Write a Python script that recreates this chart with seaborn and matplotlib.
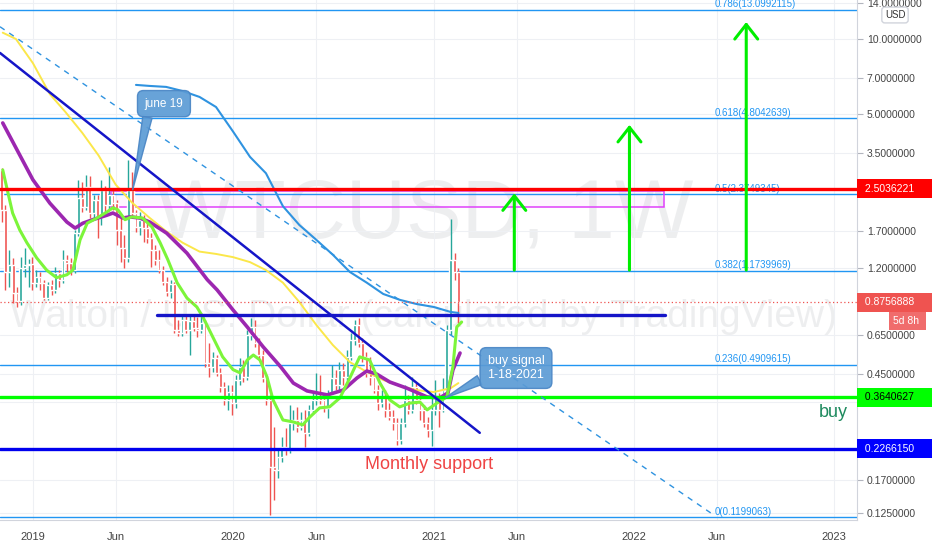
import matplotlib
matplotlib.use("Agg")
import matplotlib.pyplot as plt
import matplotlib.dates as mdates
import matplotlib.transforms as mtransforms
from matplotlib.patches import Rectangle
from matplotlib.ticker import FixedLocator, FuncFormatter, NullLocator
import numpy as np
import pandas as pd
import seaborn as sns

sns.set_style("white")
plt.rcParams["font.family"] = ["Liberation Sans", "DejaVu Sans"]

# weekly candles WTC/USD, first week starting 2018-11-05
first_week = "2018-11-05"
opens = [2.98, 2.06, 1.16, 1.24, 0.955, 0.887, 1.20, 1.24, 1.25, 1.05,
         1.11, 1.05, 0.911, 1.03, 0.982, 1.15, 1.08, 1.30, 1.26, 1.18,
         1.66, 2.30, 2.11, 2.55, 2.00, 2.26, 1.93, 2.48, 2.15, 2.36,
         2.19, 1.71, 1.45, 1.32, 2.48, 2.00, 1.76, 1.88, 1.74, 1.59,
         1.42, 1.30, 1.18, 1.06, 0.964, 1.04, 0.678, 0.660, 0.744, 0.678,
         0.737, 0.691, 0.678, 0.724, 0.500, 0.482, 0.524, 0.456, 0.400, 0.355,
         0.382, 0.345, 0.427, 0.482, 0.439, 0.648, 0.697, 0.601, 0.538, 0.435,
         0.355, 0.191, 0.186, 0.210, 0.230, 0.224, 0.287, 0.295, 0.277, 0.295,
         0.262, 0.324, 0.355, 0.365, 0.355, 0.330, 0.372, 0.435, 0.408, 0.469,
         0.439, 0.529, 0.618, 0.710, 0.601, 0.529, 0.456, 0.439, 0.389, 0.345,
         0.365, 0.324, 0.303, 0.287, 0.245, 0.287, 0.355, 0.324, 0.400, 0.355,
         0.324, 0.287, 0.269, 0.324, 0.365, 0.324, 0.389, 0.678, 1.30, 1.16]
highs = [3.03, 2.15, 1.42, 1.32, 1.01, 1.33, 1.45, 1.31, 1.33, 1.18,
         1.16, 1.08, 1.06, 1.08, 1.21, 1.18, 1.42, 1.36, 1.32, 1.71,
         2.72, 2.67, 2.84, 2.82, 2.36, 2.36, 2.72, 2.57, 3.06, 2.52,
         2.26, 1.93, 1.63, 3.27, 2.92, 2.06, 2.02, 1.96, 1.84, 1.66,
         1.49, 1.42, 1.23, 1.11, 1.08, 1.06, 0.744, 0.772, 0.772, 0.772,
         0.772, 0.765, 0.794, 0.744, 0.601, 0.553, 0.538, 0.477, 0.419, 0.408,
         0.408, 0.447, 0.524, 0.514, 0.678, 0.758, 0.744, 0.630, 0.564, 0.447,
         0.372, 0.277, 0.224, 0.252, 0.274, 0.339, 0.324, 0.333, 0.318, 0.324,
         0.339, 0.382, 0.456, 0.447, 0.372, 0.389, 0.491, 0.469, 0.504, 0.500,
         0.564, 0.660, 0.744, 0.758, 0.630, 0.553, 0.529, 0.460, 0.408, 0.389,
         0.389, 0.345, 0.324, 0.301, 0.301, 0.408, 0.372, 0.439, 0.415, 0.372,
         0.339, 0.303, 0.362, 0.427, 0.379, 0.435, 0.710, 1.89, 1.38, 1.20]
lows = [1.84, 0.982, 1.01, 0.870, 0.839, 0.855, 1.11, 1.01, 0.982, 1.01,
        0.982, 0.895, 0.895, 0.937, 0.955, 1.01, 1.05, 1.16, 1.13, 1.15,
        1.62, 2.02, 2.06, 1.91, 1.91, 1.59, 1.79, 2.02, 2.06, 2.06,
        1.49, 1.27, 1.20, 1.27, 1.95, 1.68, 1.63, 1.53, 1.52, 1.21,
        1.24, 1.15, 1.03, 0.928, 0.911, 0.660, 0.642, 0.642, 0.660, 0.538,
        0.672, 0.636, 0.660, 0.482, 0.439, 0.460, 0.443, 0.382, 0.339, 0.324,
        0.309, 0.330, 0.408, 0.419, 0.427, 0.618, 0.580, 0.514, 0.419, 0.339,
        0.123, 0.141, 0.172, 0.200, 0.214, 0.218, 0.269, 0.264, 0.269, 0.230,
        0.255, 0.312, 0.339, 0.342, 0.318, 0.301, 0.362, 0.389, 0.389, 0.408,
        0.427, 0.514, 0.590, 0.580, 0.504, 0.439, 0.408, 0.379, 0.324, 0.333,
        0.303, 0.295, 0.269, 0.234, 0.236, 0.277, 0.312, 0.315, 0.342, 0.295,
        0.277, 0.252, 0.232, 0.309, 0.277, 0.318, 0.372, 0.648, 1.08, 0.724]
closes = [2.06, 1.16, 1.24, 0.955, 0.887, 1.20, 1.24, 1.25, 1.05, 1.11,
          1.05, 0.911, 1.03, 0.982, 1.15, 1.08, 1.30, 1.26, 1.18, 1.66,
          2.30, 2.11, 2.55, 2.00, 2.26, 1.93, 2.48, 2.15, 2.36, 2.19,
          1.71, 1.45, 1.32, 2.48, 2.00, 1.76, 1.88, 1.74, 1.59, 1.42,
          1.30, 1.18, 1.06, 0.964, 1.04, 0.678, 0.660, 0.744, 0.678, 0.737,
          0.691, 0.678, 0.724, 0.500, 0.482, 0.524, 0.456, 0.400, 0.355, 0.382,
          0.345, 0.427, 0.482, 0.439, 0.648, 0.697, 0.601, 0.538, 0.435, 0.355,
          0.191, 0.186, 0.210, 0.230, 0.224, 0.287, 0.295, 0.277, 0.295, 0.262,
          0.324, 0.355, 0.365, 0.355, 0.330, 0.372, 0.435, 0.408, 0.469, 0.439,
          0.529, 0.618, 0.710, 0.601, 0.529, 0.456, 0.439, 0.389, 0.345, 0.365,
          0.324, 0.303, 0.287, 0.245, 0.287, 0.355, 0.324, 0.400, 0.355, 0.324,
          0.287, 0.269, 0.324, 0.365, 0.324, 0.389, 0.678, 1.30, 1.16, 0.8757]

# moving average overlays
yellow_dates = ["2018-11-07", "2018-12-01", "2019-01-01", "2019-02-01", "2019-03-01",
                "2019-04-01", "2019-05-01", "2019-06-01", "2019-07-01", "2019-08-01",
                "2019-09-01", "2019-10-01", "2019-11-01", "2019-12-01", "2020-01-01",
                "2020-02-01", "2020-03-01", "2020-04-01", "2020-05-01", "2020-06-01",
                "2020-07-01", "2020-08-01", "2020-09-01", "2020-10-01", "2020-11-01",
                "2020-12-01", "2021-01-01", "2021-02-01", "2021-02-15"]
yellow_vals = [10.6, 10.0, 8.0, 6.0, 5.1, 4.2, 3.4, 2.6, 2.2, 1.92,
               1.69, 1.52, 1.40, 1.37, 1.33, 1.27, 1.18, 1.05, 0.878, 0.71,
               0.59, 0.504, 0.46, 0.427, 0.404, 0.389, 0.382, 0.396, 0.415]

blue_dates = ["2019-07-08", "2019-08-01", "2019-09-01", "2019-10-01", "2019-11-01",
              "2019-12-01", "2020-01-01", "2020-02-01", "2020-03-01", "2020-04-01",
              "2020-05-01", "2020-06-01", "2020-07-01", "2020-08-01", "2020-09-01",
              "2020-10-01", "2020-11-01", "2020-12-01", "2021-01-01", "2021-02-01",
              "2021-02-15"]
blue_vals = [6.54, 6.48, 6.42, 6.18, 5.85, 5.33, 4.25, 3.36, 2.89, 2.13,
             1.79, 1.56, 1.36, 1.16, 1.05, 0.946, 0.895, 0.862, 0.839, 0.801,
             0.794]

green_dates = ["2018-11-07", "2018-11-14", "2018-11-25", "2018-12-08", "2018-12-21",
               "2019-01-08", "2019-01-26", "2019-02-13", "2019-03-04", "2019-03-15",
               "2019-03-28", "2019-04-10", "2019-04-28", "2019-05-16", "2019-05-27",
               "2019-06-05", "2019-06-18", "2019-06-30", "2019-07-20", "2019-08-06",
               "2019-08-21", "2019-09-04", "2019-09-21", "2019-10-09", "2019-10-27",
               "2019-11-07", "2019-11-25", "2019-12-13", "2020-01-01", "2020-01-14",
               "2020-01-27", "2020-02-07", "2020-02-19", "2020-03-03", "2020-03-14",
               "2020-04-01", "2020-04-19", "2020-05-07", "2020-05-20", "2020-06-07",
               "2020-06-25", "2020-07-14", "2020-08-01", "2020-08-19", "2020-09-06",
               "2020-09-25", "2020-10-13", "2020-10-31", "2020-11-19", "2020-12-07",
               "2020-12-20", "2021-01-07", "2021-01-25", "2021-02-05", "2021-02-12",
               "2021-02-21"]
green_vals = [2.98, 2.55, 2.00, 1.71, 1.52, 1.32, 1.18, 1.10, 1.13, 1.18,
              1.56, 1.82, 1.91, 2.02, 2.10, 2.06, 1.88, 1.93, 1.91, 1.76,
              1.52, 1.30, 1.05, 0.911, 0.839, 0.765, 0.636, 0.529, 0.47, 0.456,
              0.514, 0.538, 0.514, 0.439, 0.355, 0.295, 0.290, 0.282, 0.303, 0.330,
              0.333, 0.362, 0.435, 0.529, 0.514, 0.415, 0.355, 0.333, 0.345, 0.348,
              0.324, 0.345, 0.365, 0.482, 0.697, 0.730]

purple_dates = ["2018-11-07", "2018-12-08", "2019-01-01", "2019-02-01", "2019-03-04",
                "2019-03-19", "2019-04-02", "2019-04-20", "2019-05-16", "2019-05-27",
                "2019-06-14", "2019-06-27", "2019-07-15", "2019-08-02", "2019-09-02",
                "2019-10-09", "2019-11-15", "2019-12-03", "2020-01-01", "2020-01-27",
                "2020-02-25", "2020-03-28", "2020-04-20", "2020-05-15", "2020-06-21",
                "2020-07-20", "2020-08-14", "2020-09-01", "2020-09-19", "2020-10-13",
                "2020-11-13", "2020-12-20", "2021-01-12", "2021-01-27", "2021-02-05",
                "2021-02-18"]
purple_vals = [4.60, 3.42, 2.72, 2.19, 1.84, 1.74, 1.82, 1.88, 1.96, 2.00,
               1.91, 1.93, 1.91, 1.84, 1.66, 1.38, 1.08, 0.982, 0.816, 0.697,
               0.580, 0.482, 0.415, 0.386, 0.372, 0.389, 0.435, 0.464, 0.451, 0.419,
               0.396, 0.365, 0.362, 0.379, 0.469, 0.548]

# fibonacci retracement levels
fib_ratios = ["0.786", "0.618", "0.5", "0.382", "0.236", "0"]
fib_prices = [13.0992115, 4.8042639, 2.3749345, 1.1739969, 0.4909615, 0.1199063]

# horizontal key levels shown on the price scale
level_prices = [2.5036221, 0.8756888, 0.3640627, 0.2266150]
level_text = ["2.5036221", "0.8756888", "0.3640627", "0.2266150"]
level_bg = ["#ff0000", "#ef5350", "#00ff00", "#0000ff"]
level_fg = ["white", "white", "black", "white"]

# drawn trend lines (start, end)
down_trend_dates = ["2018-11-02", "2021-03-26"]
down_trend_vals = [8.79, 0.262]
dashed_trend_dates = ["2018-11-02", "2022-05-24"]
dashed_trend_vals = [11.2, 0.1237]
neck_dates = ["2019-08-15", "2022-02-27"]
neck_val = 0.779
zone_dates = ["2019-05-23", "2022-02-25"]
zone_low, zone_high = 2.11, 2.46

# green target arrows
arrow_dates = ["2021-05-28", "2021-12-24", "2022-07-25"]
arrow_base = [1.18, 1.18, 1.18]
arrow_tip = [2.40, 4.52, 11.7]

axis_ticks = [14, 10, 7, 5, 3.5, 1.7, 1.2, 0.65, 0.45, 0.35, 0.17, 0.125]
time_ticks = ["2019-01-01", "2019-06-01", "2020-01-01", "2020-06-01", "2021-01-01",
              "2021-06-01", "2022-01-01", "2022-06-01", "2023-01-01"]
time_labels = ["2019", "Jun", "2020", "Jun", "2021", "Jun", "2022", "Jun", "2023"]

# ---- figure ----
fig = plt.figure(figsize=(9.32, 5.5), dpi=100)
ax = fig.add_axes([0, 30 / 550, 857 / 932, 520 / 550])
ax.set_yscale("log")
ax.set_xlim(pd.Timestamp("2018-11-02"), pd.Timestamp("2023-02-12"))
ax.set_ylim(0.117, 14.34)

# watermark
ax.text(0.496, 0.585, "WTCUSD, 1W", transform=ax.transAxes, ha="center", va="center",
        fontsize=60, color="#9598a1", alpha=0.16, zorder=0)
ax.text(0.494, 0.39, "Walton / U.S. Dollar (calculated by TradingView)", transform=ax.transAxes,
        ha="center", va="center", fontsize=28, color="#9598a1", alpha=0.16, zorder=0)

# fib levels
for r, p in zip(fib_ratios, fib_prices):
    ax.axhline(p, color="#2196f3", lw=1, zorder=1.5)
    ax.annotate(f"{r}({p:.7f})", xy=(pd.Timestamp("2022-05-28"), p), xytext=(0, 0.5),
                textcoords="offset points", ha="left", va="bottom", fontsize=7,
                color="#2196f3", zorder=1.5)

# resistance zone
z0, z1 = mdates.date2num(pd.to_datetime(zone_dates))
ax.add_patch(Rectangle((z0, zone_low), z1 - z0, zone_high - zone_low, fc="#e040fb",
                       alpha=0.05, ec="none", zorder=1.6))
ax.add_patch(Rectangle((z0, zone_low), z1 - z0, zone_high - zone_low, fill=False,
                       ec="#e040fb", lw=1.1, zorder=1.6))

# candles
candles = pd.DataFrame({"date": pd.date_range(first_week, periods=len(closes), freq="7D"),
                        "open": opens, "high": highs, "low": lows, "close": closes})
rising = candles["close"] >= candles["open"]
col = np.where(rising, "#26a69a", "#ef5350")
body_lo = candles[["open", "close"]].min(axis=1)
body_hi = candles[["open", "close"]].max(axis=1)
ax.vlines(candles["date"], candles["low"], candles["high"], colors=col, lw=1.0, zorder=2)
ax.bar(candles["date"], body_hi - body_lo, bottom=body_lo, width=5.2, color=col, zorder=2)

# moving averages
sns.lineplot(x=pd.to_datetime(yellow_dates), y=yellow_vals, ax=ax, color="#fbe74a", lw=1.4, zorder=3)
sns.lineplot(x=pd.to_datetime(blue_dates), y=blue_vals, ax=ax, color="#2f93e0", lw=1.5, zorder=3)
sns.lineplot(x=pd.to_datetime(purple_dates), y=purple_vals, ax=ax, color="#9c27b0", lw=2.6, zorder=3)
sns.lineplot(x=pd.to_datetime(green_dates), y=green_vals, ax=ax, color="#7cf53a", lw=2.2, zorder=3.1)

# key horizontal levels
ax.axhline(level_prices[0], color="#ff0000", lw=2.4, zorder=4)
ax.axhline(level_prices[1], color="#ef5350", lw=0.9, ls=(0, (1, 2)), zorder=4)
ax.axhline(level_prices[2], color="#00ff00", lw=2.4, zorder=4)
ax.axhline(level_prices[3], color="#0000ee", lw=2.4, zorder=4)

# trend lines
ax.plot(pd.to_datetime(down_trend_dates), down_trend_vals, color="#1515c8", lw=1.8, zorder=4)
ax.plot(pd.to_datetime(dashed_trend_dates), dashed_trend_vals, color="#2f93e0", lw=1,
        ls=(0, (4, 4)), zorder=4)
ax.plot(pd.to_datetime(neck_dates), [neck_val, neck_val], color="#1515c8", lw=2.4, zorder=4)

# target arrows
for d, b, t in zip(arrow_dates, arrow_base, arrow_tip):
    ax.annotate("", xy=(pd.Timestamp(d), t), xytext=(pd.Timestamp(d), b),
                arrowprops=dict(arrowstyle="->,head_length=0.7,head_width=0.55",
                                color="#00ee00", lw=2.2, mutation_scale=15,
                                shrinkA=0, shrinkB=0), zorder=5)

# callouts
callout = dict(boxstyle="round,pad=0.6,rounding_size=0.5", fc="#5b9bd5", ec="#4a86c5", alpha=0.92)
ax.annotate("june 19", xy=(pd.Timestamp("2019-07-02"), 2.48),
            xytext=(pd.Timestamp("2019-08-28"), 5.5), ha="center", va="center",
            fontsize=8.5, color="white", bbox=callout, zorder=6,
            arrowprops=dict(arrowstyle="wedge,tail_width=0.8,shrink_factor=0.5",
                            fc="#5b9bd5", ec="#4a86c5", alpha=0.92, relpos=(0.12, 0.1),
                            shrinkA=0, shrinkB=0))
ax.annotate("buy signal\n1-18-2021", xy=(pd.Timestamp("2021-01-22"), 0.362),
            xytext=(pd.Timestamp("2021-05-31"), 0.477), ha="center", va="center",
            multialignment="center", fontsize=9, color="white", bbox=callout, zorder=6,
            arrowprops=dict(arrowstyle="wedge,tail_width=0.8,shrink_factor=0.5",
                            fc="#5b9bd5", ec="#4a86c5", alpha=0.92, relpos=(0.05, 0.25),
                            shrinkA=0, shrinkB=0))

ax.text(pd.Timestamp("2020-12-24"), 0.1946, "Monthly support", ha="center", va="center",
        fontsize=13, color="#ef4444", zorder=6)
ax.text(pd.Timestamp("2022-12-31"), 0.315, "buy", ha="center", va="center",
        fontsize=13, color="#1e8a5e", zorder=6)

# axes styling
ax.yaxis.tick_right()
ax.yaxis.set_major_locator(FixedLocator(axis_ticks))
ax.yaxis.set_major_formatter(FuncFormatter(lambda v, _: f"{v:.7f}"))
ax.yaxis.set_minor_locator(NullLocator())
ax.tick_params(axis="y", which="major", labelsize=7.5, colors="#444444", length=4,
               pad=3, right=True, left=False, color="#b2b5be")
ax.set_xticks(pd.to_datetime(time_ticks))
ax.set_xticklabels(time_labels)
ax.xaxis.set_minor_locator(NullLocator())
ax.tick_params(axis="x", labelsize=8, colors="#444444", length=4, pad=5, color="#b2b5be")
ax.grid(True, color="#eef0f4", lw=0.8, zorder=0)
ax.set_axisbelow(True)
for s in ["left", "top"]:
    ax.spines[s].set_visible(False)
ax.spines["right"].set_color("#d1d4dc")
ax.spines["bottom"].set_color("#d1d4dc")
ax.set_xlabel("")
ax.set_ylabel("")

# price labels on the scale
trans = mtransforms.blended_transform_factory(ax.transAxes, ax.transData)
for p, txt, bg, fg in zip(level_prices, level_text, level_bg, level_fg):
    ax.text(1.006, p, " " + txt + "     ", transform=trans, ha="left", va="center", fontsize=7.5,
            color=fg, clip_on=False, zorder=10,
            bbox=dict(boxstyle="square,pad=0.45", fc=bg, ec="none"))
ax.text(1.042, 0.737, "5d 8h ", transform=trans, ha="left", va="center", fontsize=7.5,
        color="white", clip_on=False, zorder=10,
        bbox=dict(boxstyle="square,pad=0.4", fc="#f06c6c", ec="none"))
fig.text(895 / 932, 1 - 15 / 550, "USD", ha="center", va="center", fontsize=7,
         color="#333333", bbox=dict(boxstyle="round,pad=0.3", fc="white", ec="#d1d4dc"))

fig.savefig("out.png", dpi=100)
